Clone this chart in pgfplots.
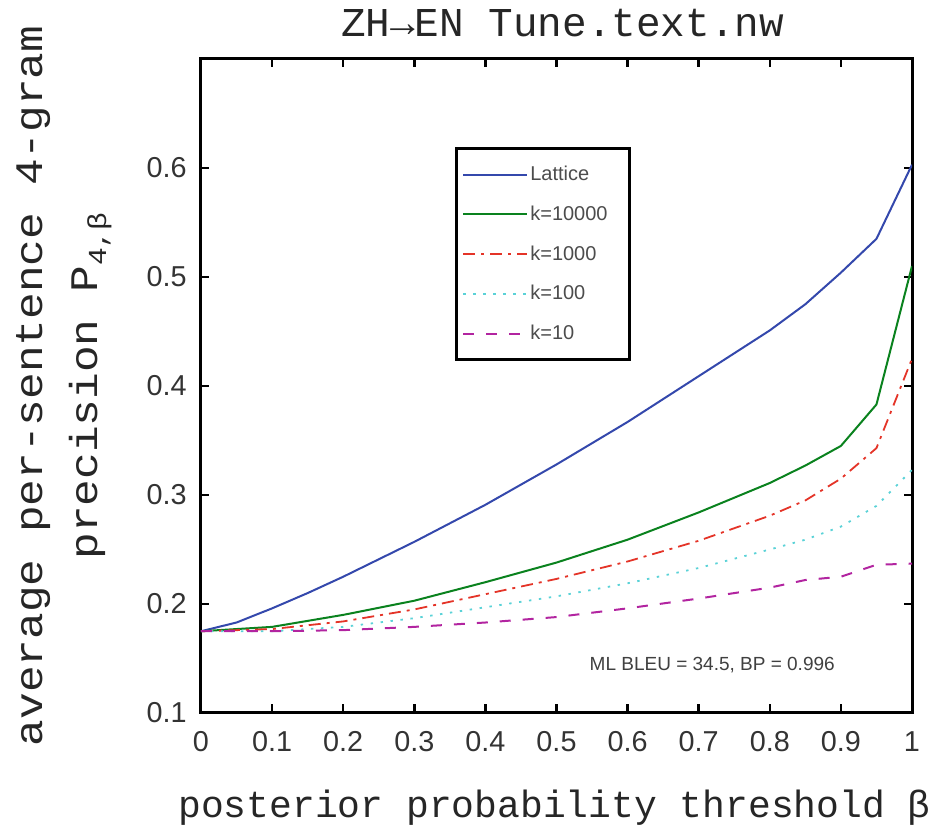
\documentclass[border=0pt]{standalone}
\usepackage{pgfplots}
\pgfplotsset{compat=1.18}
\usepackage{fontspec}
\setmainfont{Liberation Sans}
\setmonofont{Liberation Mono}
\definecolor{cblue}{RGB}{52,72,172}
\definecolor{cgreen}{RGB}{10,130,30}
\definecolor{cred}{RGB}{228,52,40}
\definecolor{ccyan}{RGB}{90,210,215}
\definecolor{cmag}{RGB}{178,36,160}
\begin{document}
\begin{tikzpicture}
\begin{axis}[
  name=ax,
  scale only axis,
  width=355.5pt, height=327pt,
  xmin=0, xmax=1, ymin=0.1, ymax=0.7,
  xtick={0,0.1,0.2,0.3,0.4,0.5,0.6,0.7,0.8,0.9,1},
  xticklabels={0,0.1,0.2,0.3,0.4,0.5,0.6,0.7,0.8,0.9,1},
  ytick={0.1,0.2,0.3,0.4,0.5,0.6},
  yticklabels={0.1,0.2,0.3,0.4,0.5,0.6},
  tick align=inside,
  major tick length=4.25pt,
  axis line style={line width=1.5pt, black},
  every tick/.style={line width=1.3pt, black},
  /pgf/number format/assume math mode=true,
  ticklabel style={font=\fontsize{14.4}{16}\selectfont, text=black!80},
  xticklabel style={anchor=north, inner sep=0pt, yshift=-9pt},
  yticklabel style={anchor=east, inner sep=0pt, xshift=-7pt},
  legend style={at={(rel axis cs:0.357,0.865)}, anchor=north west,
    draw=black, line width=1.5pt, inner xsep=3pt, inner ysep=7.5pt,
    row sep=9.2pt, font=\fontsize{10}{12}\selectfont, text=black!70,
    nodes={inner sep=1pt}, /tikz/column sep=0pt},
  legend cell align=left,
  legend image code/.code={\draw[#1] (0cm,0cm) -- (32pt,0cm);},
]
\addplot[color=cblue, line width=1pt] table {
0 0.175
0.05 0.183
0.1 0.196
0.15 0.210
0.2 0.225
0.3 0.257
0.4 0.291
0.5 0.328
0.6 0.367
0.7 0.409
0.8 0.451
0.85 0.475
0.9 0.504
0.95 0.535
1.0 0.603
};
\addlegendentry{Lattice}
\addplot[color=cgreen, line width=1pt] table {
0 0.175
0.1 0.179
0.2 0.190
0.3 0.203
0.4 0.220
0.5 0.238
0.6 0.259
0.7 0.284
0.8 0.311
0.85 0.327
0.9 0.345
0.95 0.383
1.0 0.510
};
\addlegendentry{k=10000\hspace*{7pt}}
\addplot[color=cred, line width=0.9pt, dash pattern=on 6pt off 3pt on 1.5pt off 3pt] table {
0 0.175
0.1 0.177
0.2 0.184
0.3 0.195
0.4 0.209
0.5 0.223
0.6 0.239
0.7 0.258
0.8 0.281
0.85 0.295
0.9 0.315
0.95 0.343
1.0 0.425
};
\addlegendentry{k=1000}
\addplot[color=ccyan, line width=0.9pt, dash pattern=on 1.2pt off 3.8pt] table {
0 0.175
0.1 0.175
0.2 0.179
0.3 0.187
0.4 0.197
0.5 0.207
0.6 0.219
0.7 0.233
0.8 0.250
0.85 0.259
0.9 0.271
0.95 0.290
1.0 0.323
};
\addlegendentry{k=100}
\addplot[color=cmag, line width=1pt, dash pattern=on 5.5pt off 6pt] table {
0 0.175
0.1 0.175
0.2 0.176
0.3 0.179
0.4 0.183
0.5 0.188
0.6 0.196
0.7 0.205
0.8 0.215
0.85 0.222
0.9 0.225
0.95 0.236
1.0 0.237
};
\addlegendentry{k=10}
\node[font=\fontsize{9.5}{11}\selectfont, text=black!75] at (axis cs:0.719,0.1444) {ML BLEU = 34.5, BP = 0.996};
\end{axis}
\node[anchor=base, font=\ttfamily\fontsize{20.5}{24}\selectfont, text=black!85] at ([yshift=11pt, xshift=3pt]ax.north) {ZH→EN Tune.text.nw};
\node[anchor=base, font=\ttfamily\fontsize{19}{24}\selectfont, text=black!85] at ([yshift=-52.5pt, xshift=-1pt]ax.south) {posterior probability threshold β};
\node[rotate=90, anchor=south, align=center, inner sep=0pt, font=\ttfamily\fontsize{19.5}{27.5}\selectfont, text=black!85] at ([xshift=-44.5pt]ax.west) {\scalebox{1.14}[1]{average per-sentence 4-gram}\\ \scalebox{1.14}[1]{precision P\raisebox{-0.4ex}{\fontsize{13}{13}\selectfont 4,β}}};
\pgfresetboundingbox
\path ([xshift=-100.5pt,yshift=-57pt]ax.south west) rectangle ([xshift=15.5pt,yshift=29.5pt]ax.north east);
\end{tikzpicture}
\end{document}
